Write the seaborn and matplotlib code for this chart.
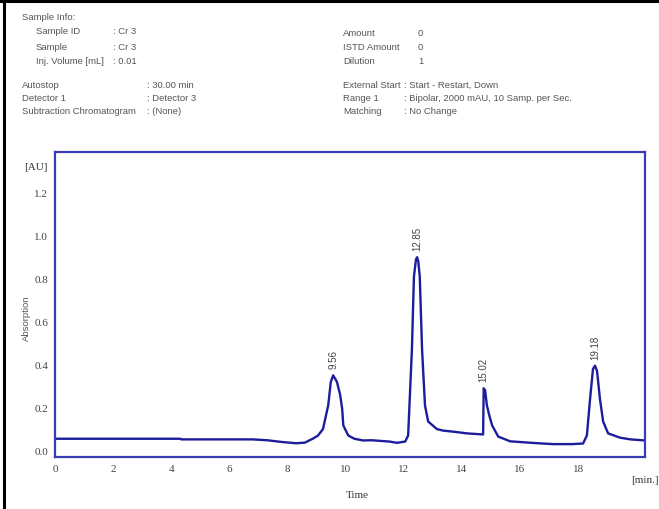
import matplotlib
matplotlib.use("Agg")
import matplotlib.pyplot as plt
import pandas as pd
import seaborn as sns

# chromatogram trace (time in min, absorption in AU)
time_min = [0.0, 2.0, 4.3, 4.35, 6.0, 6.8, 7.3, 7.8, 8.3, 8.6, 8.88, 9.05, 9.22,
            9.4, 9.49, 9.57, 9.7, 9.81, 9.88, 9.92, 10.09, 10.3, 10.6, 10.9,
            11.2, 11.5, 11.77, 12.05, 12.15, 12.28, 12.35, 12.42, 12.46, 12.5,
            12.55, 12.63, 12.73, 12.84, 13.14, 13.35, 13.7, 14.17, 14.5, 14.73,
            14.75, 14.8, 14.86, 14.95, 15.04, 15.25, 15.66, 16.5, 17.14, 17.8,
            18.17, 18.3, 18.41, 18.51, 18.58, 18.65, 18.75, 18.86, 19.03, 19.44,
            19.8, 20.3]
absorbance = [0.055, 0.055, 0.055, 0.052, 0.052, 0.052, 0.048, 0.040, 0.034, 0.037,
              0.056, 0.07, 0.10, 0.21, 0.32, 0.35, 0.32, 0.26, 0.195, 0.117,
              0.07, 0.055, 0.047, 0.048, 0.045, 0.042, 0.036, 0.042, 0.07, 0.47,
              0.81, 0.89, 0.90, 0.88, 0.81, 0.47, 0.21, 0.135, 0.10, 0.093,
              0.088, 0.080, 0.077, 0.075, 0.29, 0.28, 0.21, 0.16, 0.117, 0.065,
              0.043, 0.035, 0.030, 0.030, 0.033, 0.07, 0.24, 0.38, 0.395, 0.37,
              0.24, 0.135, 0.08, 0.06, 0.052, 0.047]

peak_times = [9.57, 12.46, 14.75, 18.58]
peak_heights = [0.35, 0.90, 0.29, 0.395]
peak_labels = ["9.56", "12.85", "15.02", "19.18"]

x_ticks = [0, 2, 4, 6, 8, 10, 12, 14, 16, 18]
y_ticks = [0.0, 0.2, 0.4, 0.6, 0.8, 1.0, 1.2]

info_left = [("Sample Info:", "", 22, 17), ("Sample ID", ": Cr 3", 36, 32),
             ("Sample", ": Cr 3", 36, 47), ("Inj. Volume [mL]", ": 0.01", 36, 62)]
info_left2 = [("Autostop", ": 30.00 min"), ("Detector 1", ": Detector 3"),
              ("Subtraction Chromatogram", ": (None)")]
info_right = [("Amount", "0"), ("ISTD Amount", "0"), ("Dilution", "1")]
info_right2 = [("External Start", ": Start - Restart, Down"),
               ("Range 1", ": Bipolar, 2000 mAU, 10 Samp. per Sec."),
               ("Matching", ": No Change")]

sns.set_style("white")
plt.rcParams["font.family"] = ["Liberation Sans", "DejaVu Sans"]

W, H = 659, 510
fig = plt.figure(figsize=(W / 100, H / 100), dpi=100)
ax = fig.add_axes([55 / W, 1 - 458 / H, 590 / W, 305 / H])

df = pd.DataFrame({"Time": time_min, "Absorption": absorbance})
sns.lineplot(data=df, x="Time", y="Absorption", ax=ax, color="#1c1c9c", lw=1.7,
             sort=False)

for t, h, lab in zip(peak_times, peak_heights, peak_labels):
    ax.annotate(lab, (t, h), xytext=(0, 5), textcoords="offset points",
                rotation=90, ha="center", va="bottom", fontsize=7, color="#444444")

serif = ["Liberation Serif", "DejaVu Serif"]
ax.set_xlim(0, 20.3)
ax.set_ylim(-0.03, 1.39)
ax.set_xticks(x_ticks)
ax.set_xticklabels([str(v) for v in x_ticks], fontsize=8, color="#444444", family=serif)
ax.set_yticks(y_ticks)
ax.set_yticklabels([f"{v:.1f}" for v in y_ticks], fontsize=8, color="#444444", family=serif)
ax.tick_params(length=0, pad=5)
ax.set_xlabel("")
ax.set_ylabel("")
for s in ax.spines.values():
    s.set_color("#3a3ab4")
    s.set_linewidth(1.6)

fig.text(357 / W, 1 - 496 / H, "Time", fontsize=8, color="#333333", ha="center",
         va="center", family=serif)
fig.text(645 / W, 1 - 481 / H, "[min.]", fontsize=8, color="#333333", ha="center",
         va="center", family=serif)
fig.text(26 / W, 1 - 318 / H, "Absorption", fontsize=6.8, color="#555555", rotation=90,
         ha="center", va="center")
fig.text(48 / W, 1 - 168 / H, "[AU]", fontsize=8, color="#333333", ha="right",
         va="center", family=serif)

gray = "#555555"
fs = 6.8
for name, val, x, y in info_left:
    fig.text(x / W, 1 - y / H, name, fontsize=fs, color=gray, va="center")
    if val:
        fig.text(113 / W, 1 - y / H, val, fontsize=fs, color=gray, va="center")
for i, (name, val) in enumerate(info_left2):
    y = 85 + i * 13.5
    fig.text(22 / W, 1 - y / H, name, fontsize=fs, color=gray, va="center")
    fig.text(147 / W, 1 - y / H, val, fontsize=fs, color=gray, va="center")
for i, (name, val) in enumerate(info_right):
    y = 33 + i * 14
    fig.text(343 / W, 1 - y / H, name, fontsize=fs, color=gray, va="center")
    fig.text(418 / W, 1 - y / H, val, fontsize=fs, color=gray, va="center")
for i, (name, val) in enumerate(info_right2):
    y = 85 + i * 13.5
    fig.text(343 / W, 1 - y / H, name, fontsize=fs, color=gray, va="center")
    fig.text(404 / W, 1 - y / H, val, fontsize=fs, color=gray, va="center")

# outer black border along top and left edges
fig.add_artist(plt.Line2D([4 / W, 4 / W], [0, 1], color="black", lw=2.2))
fig.add_artist(plt.Line2D([0, 1], [1 - 1.5 / H, 1 - 1.5 / H], color="black", lw=2.2))

fig.savefig("out.png", dpi=100)
